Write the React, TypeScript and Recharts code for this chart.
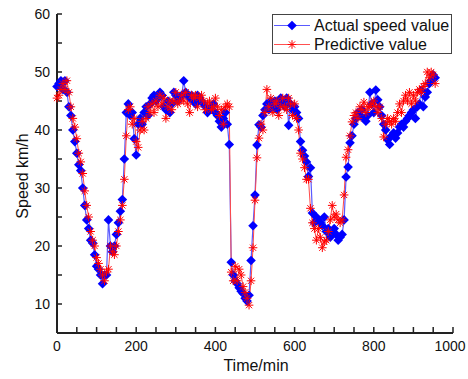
import { Legend, Line, LineChart, XAxis, YAxis } from 'recharts';

// time axis: one sample every 5 min
const times = Array.from({ length: 192 }, (_, i) => i * 5);

const actualSpeed = [
  47.5, 48, 48.5, 47, 48.5, 46.5, 44, 42.5, 40, 38,
  36, 34, 33, 30, 27, 24.5, 23, 21, 20.5, 18.5,
  16.5, 16, 15, 13.5, 15, 15, 24.5, 20, 19, 20,
  22, 24, 26, 28, 35, 43, 44.5, 42.5, 43, 38.5,
  35.7, 41, 42, 41, 43, 44, 42.5, 44.5, 45.5, 46,
  45, 45.5, 46.5, 46, 44, 43.5, 45, 43, 44.5, 46.5,
  46, 45, 45.5, 46, 48.5, 46.5, 46, 45.5, 46, 45,
  44.5, 46, 45.5, 45, 44.5, 44, 43, 43.5, 44, 44.5,
  43, 42.5, 41.5, 40.5, 42, 43, 41, 37.5, 17.2, 15,
  14, 13.5, 12.8, 12.2, 11.8, 11, 10.5, 11.5, 17.5, 23.5,
  28.8, 37.4, 40.9, 40.5, 42.5, 43.5, 44.5, 43.5, 45, 44,
  45, 43.5, 44.5, 45.5, 45, 44, 45.5, 40.8, 44.5, 43.5,
  44, 43, 42, 38, 36.5, 35.5, 34.5, 32, 33.5, 25.7,
  24, 25, 24.5, 24, 23.5, 25, 22.5, 23, 21.5, 22,
  23, 22, 21, 21.5, 22, 24.5, 31.9, 33.6, 37.8, 39,
  41, 42, 43, 42.5, 43.5, 42, 41.5, 42.5, 46.5, 44.5,
  43, 46.9, 45.2, 44, 42.5, 41, 40, 38.3, 37.5, 39,
  39.5, 38.6, 39.5, 40.5, 41, 40.5, 41.5, 42, 42.5, 43,
  43.5, 42, 44, 44.5, 46.9, 44, 45.7, 46.5, 48, 48.5,
  49.5, 49
];

const predictedSpeed = [
  45.5, 46, 47, 48, 47, 48.5, 46.5, 44, 42, 40.5,
  38.5, 36, 34.5, 32.5, 29.5, 27, 25, 22.5, 21, 20,
  18, 17, 16, 15, 14, 15.5, 16, 20, 19, 18.5,
  20, 22.5, 24.5, 27, 31.5, 39, 43.5, 44, 41, 42,
  38, 37, 40, 41.5, 40, 42, 44, 43, 44.5, 43,
  45, 44, 46, 44.5, 45.5, 42, 44, 45, 43.5, 45,
  46.5, 44.5, 45, 46, 45, 46.5, 44.5, 43, 46, 45.5,
  46, 44, 45.5, 46, 45, 43.5, 44.5, 45, 43.5, 44,
  45.5, 44, 42.5, 43.5, 41, 44, 44.5, 44, 15.5, 14,
  16.5, 14, 16, 15, 13, 12, 11, 9.8, 14, 19.7,
  27.9, 35.2, 38.6, 41, 40, 43, 47, 44, 45.5, 43,
  44.5, 45, 42.5, 44, 45.5, 44, 43.5, 45.5, 44.5, 42.5,
  44.5, 42, 40, 36, 35, 33.5, 31.5, 31.5, 26.5, 24,
  23, 21, 23, 21.5, 19.7, 20.7, 21, 22.5, 24.5, 27,
  25, 25.5, 24.5, 24, 24.5, 28.8, 35.3, 36.6, 39, 41.4,
  42.5, 43, 42, 44, 43.5, 44.8, 43, 44, 44, 44.5,
  45, 44, 43, 44, 42, 38.8, 41, 42, 41.5, 41,
  42, 41.5, 43, 44.5, 43, 45, 46, 45, 46.5, 44.5,
  46, 45, 46.5, 47, 46.5, 47.5, 48, 50, 49, 50,
  49.5, 48
];

const xTicks = [0, 50, 100, 150, 200, 250, 300, 350, 400, 450, 500, 550, 600, 650, 700, 750, 800, 850, 900, 950, 1000];
const yTicks = [10, 15, 20, 25, 30, 35, 40, 45, 50, 55, 60];

const data = times.map((t, i) => ({ t, actual: actualSpeed[i], predicted: predictedSpeed[i] }));

const FONT = '"Liberation Sans", Arial, sans-serif';
const BLUE = '#0000ff';
const RED = '#ff0000';
const AXIS = '#222';

function Diamond({ cx, cy, r = 4.8 }: { cx: number; cy: number; r?: number }) {
  return <polygon points={`${cx},${cy - r} ${cx + r},${cy} ${cx},${cy + r} ${cx - r},${cy}`} fill={BLUE} />;
}

function Star({ cx, cy, r = 4.3 }: { cx: number; cy: number; r?: number }) {
  const d = r * 0.72;
  return (
    <g stroke={RED} strokeWidth={1}>
      <line x1={cx - r} y1={cy} x2={cx + r} y2={cy} />
      <line x1={cx} y1={cy - r} x2={cx} y2={cy + r} />
      <line x1={cx - d} y1={cy - d} x2={cx + d} y2={cy + d} />
      <line x1={cx - d} y1={cy + d} x2={cx + d} y2={cy - d} />
    </g>
  );
}

function XTick({ x, y, payload }: any) {
  const v = payload.value;
  if (v % 200 !== 0) return null;
  // the last label sits against the page edge, pull it in a little
  const shift = v === 1000 ? -3 : 0;
  return (
    <text x={x + shift} y={y} dy="0.71em" textAnchor="middle" fontSize={14} fill="#111" fontFamily={FONT}>
      {v}
    </text>
  );
}

function LegendBox() {
  const row = (label: string, color: string, marker: JSX.Element) => (
    <div style={{ display: 'flex', alignItems: 'center', height: 19 }}>
      <svg width={40} height={19}>
        <line x1={1} y1={9.5} x2={37} y2={9.5} stroke={color} strokeWidth={1} />
        {marker}
      </svg>
      <span style={{ fontSize: 16, marginLeft: 1, color: '#111' }}>{label}</span>
    </div>
  );
  return (
    <div style={{ border: `1.5px solid #444`, background: '#fff', width: 180, height: 40, fontFamily: FONT, padding: '1px 0 0 0', boxSizing: 'border-box' }}>
      {row('Actual speed value', '#5a5aff', <Diamond cx={19} cy={9.5} />)}
      {row('Predictive value', '#ff5050', <Star cx={19} cy={9.5} />)}
    </div>
  );
}

export default function App() {
  return (
    <div style={{ position: 'absolute', left: 0, top: 0, background: '#fff' }}>
      <LineChart width={468} height={379} data={data} margin={{ top: 14, right: 15, bottom: 0, left: 0 }}>
        <XAxis
          dataKey="t"
          type="number"
          domain={[0, 1000]}
          ticks={xTicks}
          interval={0}
          height={46}
          tickSize={-6}
          tickMargin={14}
          axisLine={{ stroke: AXIS, strokeWidth: 2 }}
          tickLine={{ stroke: AXIS, strokeWidth: 1.5 }}
          tick={<XTick />}
          label={{
            content: () => (
              <text x={256} y={365} textAnchor="middle" dominantBaseline="central" fontSize={16} fill="#111" fontFamily={FONT}>
                Time/min
              </text>
            )
          }}
        />
        <XAxis xAxisId="top" orientation="top" dataKey="t" type="number" domain={[0, 1000]} height={0} tick={false} tickLine={false} axisLine={{ stroke: AXIS, strokeWidth: 2 }} />
        <YAxis
          type="number"
          domain={[5, 60]}
          ticks={yTicks}
          interval={0}
          width={57}
          tickSize={-5}
          tickMargin={12}
          tickFormatter={(v) => (v % 10 === 0 ? String(v) : '')}
          axisLine={{ stroke: AXIS, strokeWidth: 2 }}
          tickLine={{ stroke: AXIS, strokeWidth: 1.5 }}
          tick={{ fontSize: 14, fill: '#111', fontFamily: FONT }}
          label={{
            content: () => (
              <text x={22} y={176} transform="rotate(-90 22 176)" textAnchor="middle" dominantBaseline="central" fontSize={16} fill="#111" fontFamily={FONT}>
                Speed km/h
              </text>
            )
          }}
        />
        <YAxis yAxisId="right" orientation="right" type="number" domain={[5, 60]} width={0} tick={false} tickLine={false} axisLine={{ stroke: AXIS, strokeWidth: 2 }} />
        <Legend
          layout="horizontal"
          verticalAlign="middle"
          align="center"
          wrapperStyle={{ position: 'absolute', left: 272, top: 14, width: 181 }}
          content={() => <LegendBox />}
        />
        <Line
          type="linear"
          dataKey="actual"
          stroke="#5a5aff"
          strokeWidth={1.2}
          isAnimationActive={false}
          dot={(p: any) => <Diamond key={`a-${p.index}`} cx={p.cx} cy={p.cy} />}
          activeDot={false}
        />
        <Line
          type="linear"
          dataKey="predicted"
          stroke="#ff4a4a"
          strokeWidth={1}
          isAnimationActive={false}
          dot={(p: any) => <Star key={`p-${p.index}`} cx={p.cx} cy={p.cy} />}
          activeDot={false}
        />
      </LineChart>
    </div>
  );
}
